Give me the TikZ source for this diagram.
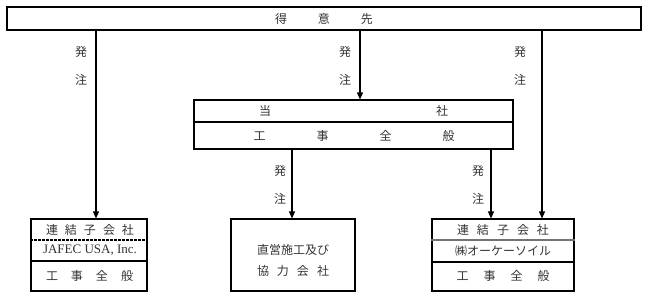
\documentclass[tikz,border=0pt]{standalone}
\usepackage{fontspec}
\setmainfont{Liberation Serif}
\newfontfamily\jp{Noto Sans CJK JP}
\usetikzlibrary{arrows.meta}
\begin{document}
\begin{tikzpicture}[x=1pt,y=-1pt,
  box/.style={draw, line width=1.1pt, inner sep=0pt},
  lbl/.style={inner sep=0pt, font=\jp\fontsize{12}{12}\selectfont, text=black!80},
  lat/.style={inner sep=0pt, font=\fontsize{13}{13}\selectfont, text=black!80},
  arr/.style={line width=1.1pt, -{Triangle[length=7pt,width=6pt]}},
  ln/.style={line width=1.1pt}]
\useasboundingbox (0,0) rectangle (648,298);

% boxes
\node[box, minimum width=634pt, minimum height=23pt] (top) at (324,18.5) {};
\node[box, minimum width=319pt, minimum height=49pt] (mid) at (353.5,124.5) {};
\node[box, minimum width=116pt, minimum height=72pt] (lb) at (89,255) {};
\node[box, minimum width=124pt, minimum height=72pt] (bm) at (293,255) {};
\node[box, minimum width=142pt, minimum height=72pt] (rb) at (503,255) {};

% dividers
\coordinate (d1) at (0,122);
\coordinate (d2) at (0,240);
\coordinate (d3) at (0,261);
\coordinate (d4) at (0,262);
\draw[ln] (mid.west |- d1) -- (mid.east |- d1);
\draw[ln, dash pattern=on 2.5pt off 1.5pt] (lb.west |- d2) -- (lb.east |- d2);
\draw[ln] (lb.west |- d3) -- (lb.east |- d3);
\draw[line width=1.3pt, black!55] (rb.west |- d2) -- (rb.east |- d2);
\draw[ln] (rb.west |- d4) -- (rb.east |- d4);

% texts
\node[lbl] (topt) at (top.center) {得\hspace{31pt}意\hspace{31pt}先};
\node[lbl] (mid1) at (353.5,111) {当\hspace{165pt}社};
\node[lbl] (mid2) at (354,135.5) {工\hspace{51pt}事\hspace{51pt}全\hspace{51pt}般};
\node[lbl] (lb1) at (90,229.5) {連\hspace{7pt}結\hspace{7pt}子\hspace{7pt}会\hspace{7pt}社};
\node[lat] (lb2) at (90,250.5) {JAFEC USA, Inc.};
\node[lbl] (lb3) at (89.5,276) {工\hspace{13pt}事\hspace{13pt}全\hspace{13pt}般};
\node[lbl] (bm1) at (293,250) {直営施工及び};
\node[lbl] (bm2) at (293,271) {協\hspace{8pt}力\hspace{8pt}会\hspace{8pt}社};
\node[lbl] (rb1) at (503,229.5) {連\hspace{8pt}結\hspace{8pt}子\hspace{8pt}会\hspace{8pt}社};
\node[lbl] (rb2) at (503,250.5) {㈱オーケーソイル};
\node[lbl] (rb3) at (503,276) {工\hspace{15pt}事\hspace{15pt}全\hspace{15pt}般};

% connectors
\coordinate (c1) at (96,0);
\coordinate (c2) at (360,0);
\coordinate (c3) at (542,0);
\coordinate (c4) at (292,0);
\coordinate (c5) at (491,0);
\draw[arr] (top.south -| c1) -- (lb.north -| c1);
\draw[arr] (top.south -| c2) -- (mid.north -| c2);
\draw[arr] (top.south -| c3) -- (rb.north -| c3);
\draw[arr] (mid.south -| c4) -- (bm.north -| c4);
\draw[arr] (mid.south -| c5) -- (rb.north -| c5);

% order labels
\node[lbl] (h1) at (81,52) {発};
\node[lbl] (t1) at (81,80) {注};
\node[lbl] (h2) at (345,52) {発};
\node[lbl] (t2) at (345,80) {注};
\node[lbl] (h3) at (520,52) {発};
\node[lbl] (t3) at (520,80) {注};
\node[lbl] (h4) at (280,171) {発};
\node[lbl] (t4) at (280,199) {注};
\node[lbl] (h5) at (478,171) {発};
\node[lbl] (t5) at (478,199) {注};
\end{tikzpicture}
\end{document}
